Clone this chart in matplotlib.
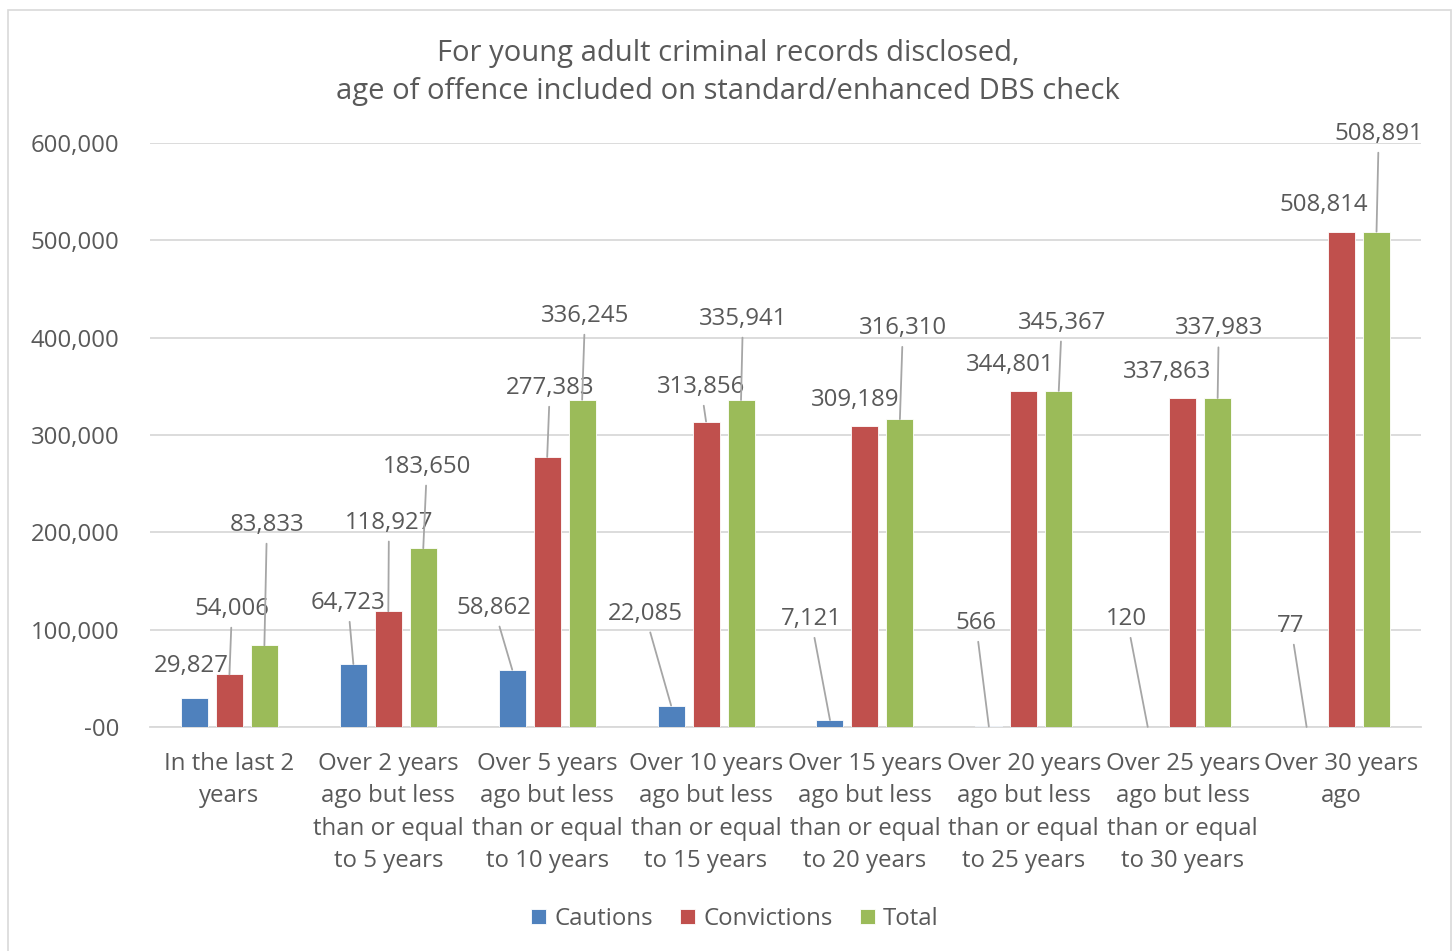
import matplotlib.pyplot as plt
import numpy as np
from matplotlib.patches import Rectangle

# Categories and values
categories = [
    "In the last 2\nyears",
    "Over 2 years\nago but less\nthan or equal\nto 5 years",
    "Over 5 years\nago but less\nthan or equal\nto 10 years",
    "Over 10 years\nago but less\nthan or equal\nto 15 years",
    "Over 15 years\nago but less\nthan or equal\nto 20 years",
    "Over 20 years\nago but less\nthan or equal\nto 25 years",
    "Over 25 years\nago but less\nthan or equal\nto 30 years",
    "Over 30 years\nago",
]
cautions = [29827, 64723, 58862, 22085, 7121, 566, 120, 77]
convictions = [54006, 118927, 277383, 313856, 309189, 344801, 337863, 508814]
totals = [83833, 183650, 336245, 335941, 316310, 345367, 337983, 508891]

yticks = [0, 100000, 200000, 300000, 400000, 500000, 600000]
ytick_labels = ["-00", "100,000", "200,000", "300,000", "400,000", "500,000", "600,000"]

# where the data labels sit (x in category units, y in data units)
caut_lbl_x = [-0.242, 0.746, 1.665, 2.615, 3.660, 4.698, 5.649, 6.681]
caut_lbl_y = [63000, 127500, 122500, 116500, 111000, 107000, 111000, 104000]
conv_lbl_x = [0.016, 1.004, 2.017, 2.968, 3.937, 4.912, 5.900, 6.888]
conv_lbl_y = [121500, 210000, 348500, 349500, 336000, 372000, 365000, 536500]
tot_lbl_x = [0.236, 1.243, 2.238, 3.232, 4.239, 5.239, 6.227, 7.234]
tot_lbl_y = [207800, 267500, 422500, 419500, 410000, 415500, 409500, 609500]

TXT = "#595959"
FS = 17.3
plt.rcParams["font.family"] = ["Open Sans", "DejaVu Sans"]

fig = plt.figure(figsize=(14.56, 9.51), dpi=100)
ax = fig.add_axes([150 / 1456, 1 - 727 / 951, 1271 / 1456, 584 / 951])

# light frame round the whole chart
fig.patches.append(Rectangle((8 / 1456, -0.01), 1443 / 1456, 1 - 10 / 951 + 0.01,
                             transform=fig.transFigure, fill=False,
                             edgecolor="#D9D9D9", linewidth=1.2))

x = np.arange(len(categories))
w = 0.17
step = 0.22
series = [
    ("Cautions", cautions, "#4F81BD", -step, caut_lbl_x, caut_lbl_y),
    ("Convictions", convictions, "#C0504D", 0.0, conv_lbl_x, conv_lbl_y),
    ("Total", totals, "#9BBB59", step, tot_lbl_x, tot_lbl_y),
]

for name, vals, col, off, lx, ly in series:
    ax.bar(x + off, vals, width=w, color=col, edgecolor="white",
           linewidth=0.6, label=name, zorder=3)
    for xi, v, tx, ty in zip(x + off, vals, lx, ly):
        # leader line only when the label sits well clear of the bar
        if ty - v > 35000:
            arrow = dict(arrowstyle="-", color="#A6A6A6", lw=1.3,
                         shrinkA=3, shrinkB=0)
        else:
            arrow = None
        ax.annotate(f"{v:,}", xy=(xi, v), xytext=(tx, ty),
                    ha="center", va="center", fontsize=FS, color=TXT,
                    arrowprops=arrow, annotation_clip=False, zorder=4)

ax.set_xlim(-0.5, len(categories) - 0.5)
ax.set_ylim(0, 600000)
ax.set_yticks(yticks)
ax.set_yticklabels(ytick_labels)
ax.set_xticks(x)
ax.set_xticklabels(categories, linespacing=1.47)
ax.tick_params(axis="y", length=0, pad=22, labelsize=FS, labelcolor=TXT)
ax.tick_params(axis="x", length=0, pad=18, labelsize=FS, labelcolor=TXT)
ax.grid(axis="y", color="#D9D9D9", linewidth=1.3, zorder=0)
ax.set_axisbelow(True)
for s in ["top", "right", "left"]:
    ax.spines[s].set_visible(False)
ax.spines["bottom"].set_color("#D9D9D9")
ax.spines["bottom"].set_linewidth(1.3)

fig.text(0.5, 1 - 72.5 / 951,
         "For young adult criminal records disclosed,\nage of offence included on standard/enhanced DBS check",
         ha="center", va="center", fontsize=21, color=TXT, linespacing=1.42)

ax.legend(loc="center", bbox_to_anchor=(735 / 1456, 1 - 919 / 951),
          bbox_transform=fig.transFigure, ncol=3, frameon=False,
          fontsize=FS, labelcolor=TXT, handlelength=0.6, handleheight=0.6,
          handletextpad=0.35, columnspacing=1.15)

fig.savefig("out.png", dpi=100)
